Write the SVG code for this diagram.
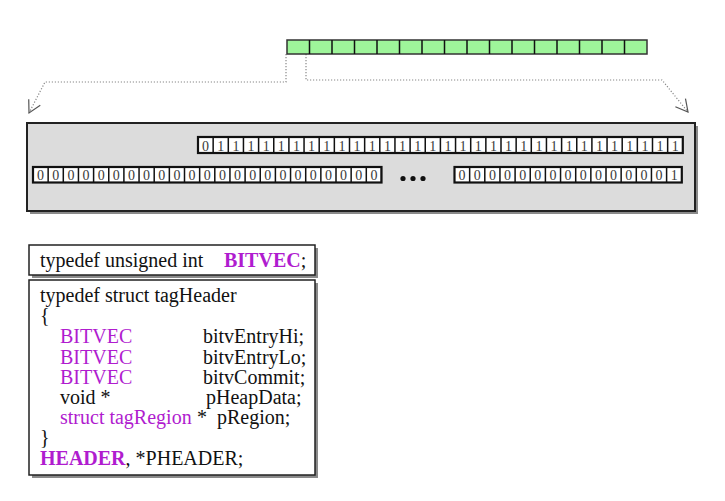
<svg xmlns="http://www.w3.org/2000/svg" width="725" height="501" viewBox="0 0 725 501">
<defs>
<style>
.dig{font-family:"Liberation Serif","Times New Roman",serif;font-size:14px;fill:#3a3a3a;text-anchor:middle}
.code{font-family:"Liberation Serif","Times New Roman",serif;font-size:20px;fill:#111}
.kw{fill:#b01ccf}
.b{font-weight:bold}
.box{fill:#fff;stroke:#222;stroke-width:1.5}
.shadow{fill:#8a8a8a}
.row{fill:#fff;stroke:#111;stroke-width:2.2}
.sep{stroke:#111;fill:none}
.conn{fill:none;stroke:#888;stroke-width:1.2;stroke-dasharray:1.2 1.8}
</style>
<marker id="arr" markerWidth="16" markerHeight="16" refX="13" refY="8" orient="auto" markerUnits="userSpaceOnUse">
<path d="M1,1.5 L13,8 L1,14.5" fill="none" stroke="#555" stroke-width="1.2"/>
</marker>
</defs>

<g id="connectors">
<path class="conn" d="M286,54 V82 H45 L29,113" marker-end="url(#arr)"/>
<path class="conn" d="M306,54 V80 H662 L688,112" marker-end="url(#arr)"/>
</g>

<g id="green-bitvec">
<rect x="287" y="40" width="360" height="14" fill="#9ef59a" stroke="#333" stroke-width="1.5"/>
<line class="sep" x1="308.75" y1="47" x2="646" y2="47" stroke-width="14" stroke-dasharray="1.5 21" stroke="#333"/>
</g>

<g id="memory-box">
<rect x="30" y="126" width="668" height="88" class="shadow"/>
<rect x="27" y="123" width="668" height="88" fill="#dcdcdc" stroke="#222" stroke-width="2"/>
</g>

<g id="row-top">
<rect class="row" x="198" y="137" width="484.8" height="16"/>
<line class="sep" x1="212.4" y1="145" x2="682" y2="145" stroke-width="16" stroke-dasharray="1.5 13.65"/>
<text class="dig" y="150.5" x="205.6 220.7 235.9 251.0 266.2 281.3 296.5 311.6 326.8 341.9 357.1 372.2 387.4 402.5 417.7 432.8 448.0 463.1 478.3 493.4 508.6 523.7 538.9 554.0 569.2 584.3 599.5 614.6 629.8 644.9 660.1 675.2">01111111111111111111111111111111</text>
</g>

<g id="row-bottom-left">
<rect class="row" x="33" y="167" width="348.5" height="15.5"/>
<line class="sep" x1="47.4" y1="174.75" x2="381" y2="174.75" stroke-width="15.5" stroke-dasharray="1.5 13.65"/>
<text class="dig" y="180" x="40.6 55.7 70.9 86.0 101.2 116.3 131.5 146.6 161.8 176.9 192.1 207.2 222.4 237.5 252.7 267.8 283.0 298.1 313.3 328.4 343.6 358.7 373.9">00000000000000000000000</text>
</g>

<g id="ellipsis">
<circle cx="403" cy="178.5" r="2.6" fill="#111"/>
<circle cx="413" cy="178.5" r="2.6" fill="#111"/>
<circle cx="423" cy="178.5" r="2.6" fill="#111"/>
</g>

<g id="row-bottom-right">
<rect class="row" x="454.5" y="167" width="227.3" height="15.5"/>
<line class="sep" x1="468.9" y1="174.75" x2="681" y2="174.75" stroke-width="15.5" stroke-dasharray="1.5 13.65"/>
<text class="dig" y="180" x="462.1 477.2 492.4 507.5 522.7 537.8 553.0 568.1 583.3 598.4 613.6 628.7 643.9 659.0 674.2">000000000000001</text>
</g>

<g id="typedef-bitvec">
<rect class="shadow" x="32" y="248" width="286" height="30"/>
<rect class="box" x="29" y="245" width="286" height="30"/>
<text class="code" x="40" y="267">typedef unsigned int <tspan class="kw b" x="224">BITVEC</tspan>;</text>
</g>

<g id="typedef-header">
<rect class="shadow" x="32" y="283" width="286" height="195"/>
<rect class="box" x="29" y="280" width="286" height="195"/>
<text class="code" x="40" y="302">typedef struct tagHeader</text>
<text class="code" x="40" y="322">{</text>
<text class="code" y="343"><tspan class="kw" x="60">BITVEC</tspan><tspan x="203">bitvEntryHi;</tspan></text>
<text class="code" y="363.5"><tspan class="kw" x="60">BITVEC</tspan><tspan x="203">bitvEntryLo;</tspan></text>
<text class="code" y="384"><tspan class="kw" x="60">BITVEC</tspan><tspan x="203">bitvCommit;</tspan></text>
<text class="code" y="404"><tspan x="60">void *</tspan><tspan x="206">pHeapData;</tspan></text>
<text class="code" y="424"><tspan class="kw" x="60">struct tagRegion</tspan><tspan x="197">*</tspan><tspan x="217">pRegion;</tspan></text>
<text class="code" x="40" y="444">}</text>
<text class="code" x="40" y="465"><tspan class="kw b">HEADER</tspan>, *PHEADER;</text>
</g>
</svg>
